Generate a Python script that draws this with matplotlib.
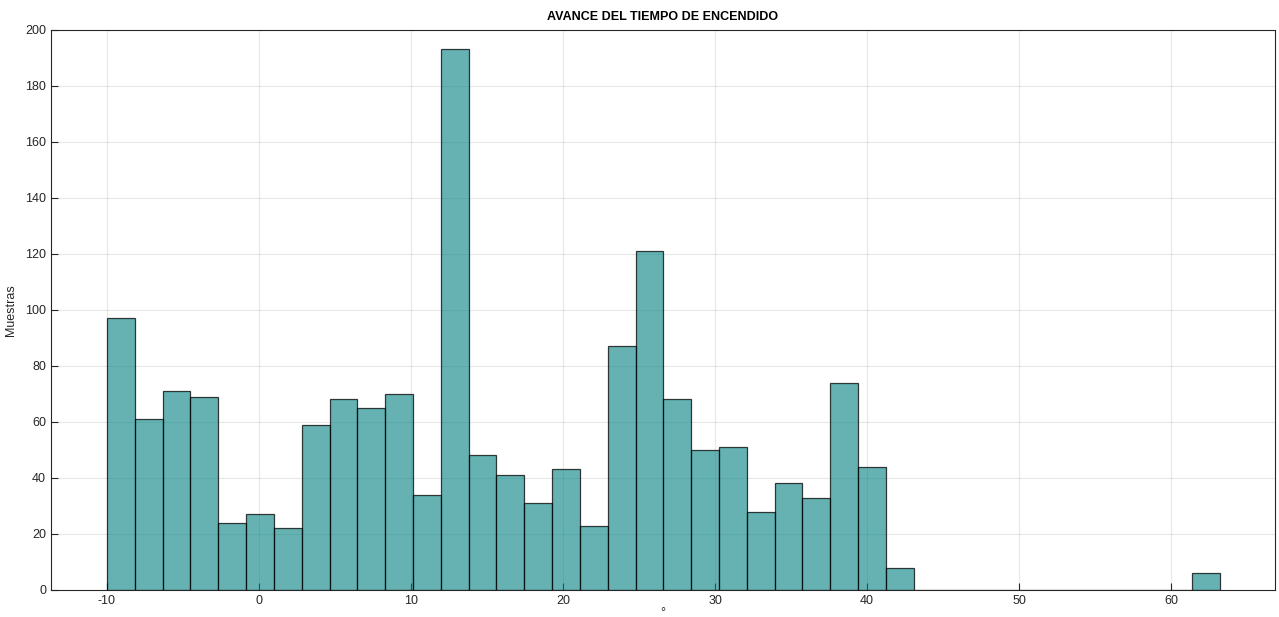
import matplotlib.pyplot as plt
import numpy as np

plt.rcParams['font.family'] = ['Liberation Sans', 'DejaVu Sans']
plt.rcParams['axes.unicode_minus'] = False

# histogram of ignition advance, 40 bins of width 1.83 starting at -10
bin_start = -10.0
bin_width = 1.83
counts = [97, 61, 71, 69, 24, 27, 22, 59, 68, 65,
          70, 34, 193, 48, 41, 31, 43, 23, 87, 121,
          68, 50, 51, 28, 38, 33, 74, 44, 8, 0,
          0, 0, 0, 0, 0, 0, 0, 0, 0, 6]
x_ticks = [-10, 0, 10, 20, 30, 40, 50, 60]
y_ticks = list(range(0, 201, 20))

edges = bin_start + bin_width * np.arange(len(counts) + 1)
axc = (0.15, 0.15, 0.15)

fig = plt.figure(figsize=(12.79, 6.17), dpi=100)
ax = fig.add_axes([0.0399, 0.0438, 0.957, 0.9083])

ax.bar(edges[:-1], counts, width=bin_width, align='edge',
       color=(0, 0.5, 0.5, 0.6), edgecolor=(0, 0, 0, 0.75), linewidth=0.9)

ax.set_xlim(-13.68, 66.84)
ax.set_ylim(0, 200)
ax.set_xticks(x_ticks)
ax.set_yticks(y_ticks)
ax.tick_params(direction='in', length=5, width=0.8, colors=axc, labelsize=9,
               top=False, right=False)
for s in ax.spines.values():
    s.set_color(axc)
    s.set_linewidth(0.8)
ax.set_axisbelow(True)
ax.grid(True, color=axc, alpha=0.11, linewidth=0.8)

ax.set_title('AVANCE DEL TIEMPO DE ENCENDIDO', fontsize=9, fontweight='bold', pad=7)
ax.set_ylabel('Muestras', fontsize=9, color=axc, labelpad=6)
ax.set_xlabel('°', fontsize=9, color=axc, labelpad=0)

fig.savefig('out.png', dpi=100)
